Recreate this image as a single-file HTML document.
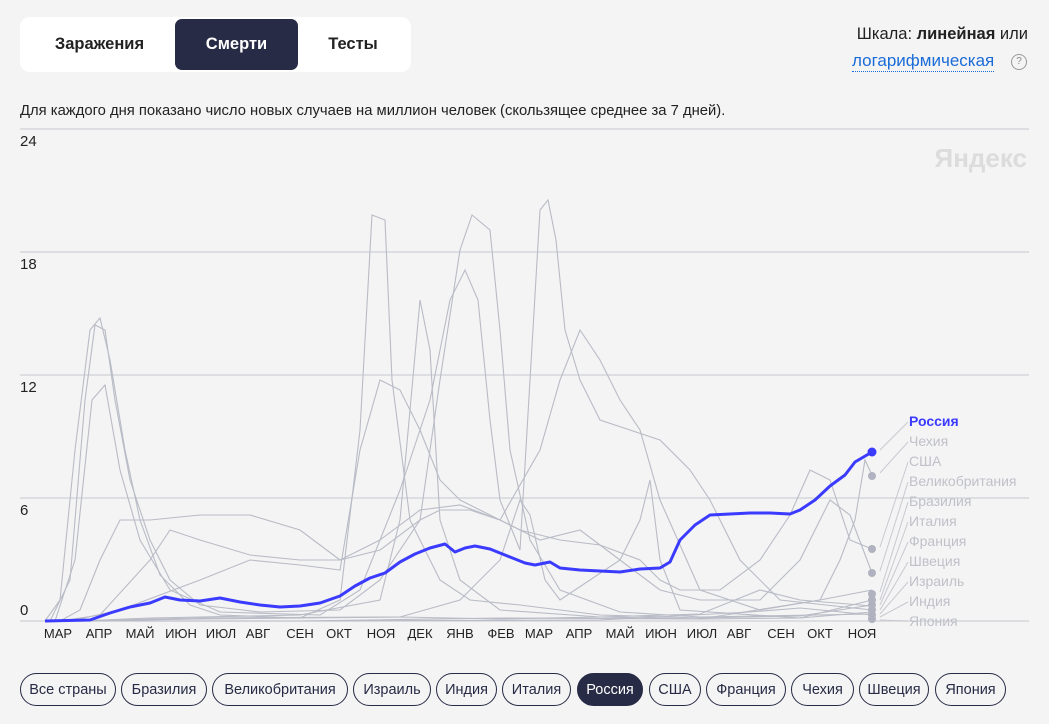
<!DOCTYPE html>
<html><head><meta charset="utf-8"><style>
body{margin:0;width:1049px;height:724px;background:#f4f4f4;font-family:"Liberation Sans","DejaVu Sans",sans-serif;position:relative;overflow:hidden;color:#222}
.tabs{position:absolute;left:20px;top:17px;width:391px;height:55px;background:#fff;border-radius:10px}
.tab{position:absolute;top:2px;height:51px;line-height:51px;font-size:16.5px;font-weight:bold;text-align:center;color:#222}
.tab.on{background:#272b45;color:#fff;border-radius:7px}
.btn{position:absolute;top:673px;height:33px;line-height:33px;border:1.3px solid #272b45;border-radius:17px;font-size:14.5px;text-align:center;color:#272b45;box-sizing:border-box}
.btn.on{background:#272b45;color:#fff}
</style></head><body>
<div class="tabs">
<div class="tab" style="left:12px;width:135px">Заражения</div>
<div class="tab on" style="left:155px;width:123px">Смерти</div>
<div class="tab" style="left:283px;width:100px">Тесты</div>
</div>
<div style="position:absolute;right:21px;top:25px;font-size:16.5px">Шкала: <b>линейная</b> или</div>
<div style="position:absolute;left:852px;top:51px;font-size:17px;color:#1a6bd8;border-bottom:1.5px dotted #1a6bd8;line-height:20px">логарифмическая</div>
<div style="position:absolute;left:1011px;top:54px;width:14px;height:14px;border:1px solid #999;border-radius:50%;font-size:10px;line-height:14px;text-align:center;color:#888">?</div>
<div style="position:absolute;left:20px;top:103px;font-size:14.8px">Для каждого дня показано число новых случаев на миллион человек (скользящее среднее за 7 дней).</div>
<svg width="1049" height="724" style="position:absolute;left:0;top:0" font-family="Liberation Sans, sans-serif">
<g stroke="#cfd1d8" stroke-width="1.3">
<line x1="20" y1="129" x2="1029" y2="129"/><line x1="20" y1="252" x2="1029" y2="252"/><line x1="20" y1="375" x2="1029" y2="375"/><line x1="20" y1="498" x2="1029" y2="498"/><line x1="20" y1="621" x2="1029" y2="621"/>
</g>
<g font-size="15" fill="#222"><text x="20" y="146">24</text><text x="20" y="269">18</text><text x="20" y="392">12</text><text x="20" y="515">6</text><text x="20" y="615">0</text></g>
<text x="1027" y="167" text-anchor="end" font-size="26" font-weight="bold" fill="#dcdcdc">Яндекс</text>
<g font-size="13" fill="#222" text-anchor="middle">
<text x="58" y="638">МАР</text><text x="99" y="638">АПР</text><text x="140" y="638">МАЙ</text><text x="181" y="638">ИЮН</text><text x="221" y="638">ИЮЛ</text><text x="258" y="638">АВГ</text><text x="300" y="638">СЕН</text><text x="339" y="638">ОКТ</text><text x="381" y="638">НОЯ</text><text x="420" y="638">ДЕК</text><text x="460" y="638">ЯНВ</text><text x="501" y="638">ФЕВ</text><text x="539" y="638">МАР</text><text x="579" y="638">АПР</text><text x="620" y="638">МАЙ</text><text x="661" y="638">ИЮН</text><text x="702" y="638">ИЮЛ</text><text x="739" y="638">АВГ</text><text x="781" y="638">СЕН</text><text x="820" y="638">ОКТ</text><text x="862" y="638">НОЯ</text>
</g>
<g fill="none" stroke="#b9bbc6" stroke-width="1.1">
<polyline points="45,621 60,600 75,450 90,330 100,318 110,360 125,450 140,520 160,575 190,605 220,615 300,618 340,600 360,430 372,215 385,220 392,380 410,520 440,580 470,600 520,605 600,615 700,618 800,616 872,605"/>
<polyline points="50,621 70,580 85,400 95,325 105,330 115,400 130,480 150,540 170,580 200,605 260,612 340,610 380,580 420,520 440,380 460,250 472,215 490,230 500,330 510,450 530,540 560,590 620,612 700,617 872,614"/>
<polyline points="55,621 75,560 92,400 105,385 120,470 140,540 170,590 220,612 320,615 360,590 400,490 430,400 450,300 465,270 478,300 490,420 500,500 520,550 540,210 548,200 556,240 565,330 580,380 600,420 630,430 660,440 690,470 710,500 740,560 780,600 872,610"/>
<polyline points="60,621 80,610 100,560 120,520 150,520 200,515 250,515 300,530 340,560 380,550 420,520 440,510 470,510 500,520 520,530 540,535 560,540 600,545 640,560 660,580 680,590 720,590 760,560 790,515 810,470 830,480 850,540 872,549"/>
<polyline points="60,621 100,615 150,560 170,530 200,540 250,555 300,560 340,560 380,540 420,510 460,505 500,520 540,540 580,530 620,560 660,590 700,600 760,600 800,560 830,500 850,515 872,573"/>
<polyline points="70,621 120,610 200,580 250,560 300,565 340,570 360,450 380,380 400,390 420,430 440,480 460,500 500,520 540,450 560,380 580,330 600,360 620,400 640,430 660,500 700,590 760,610 820,600 872,590"/>
<polyline points="80,621 150,618 300,615 380,600 400,520 420,300 430,350 440,520 460,580 500,610 600,617 700,619 800,618 872,600"/>
<polyline points="80,621 200,619 400,617 460,600 500,560 520,500 530,515 545,580 560,600 620,560 640,520 650,480 660,560 680,610 800,618 872,612"/>
<polyline points="60,621 300,621 500,618 700,619 820,600 840,560 855,520 865,460 872,475"/>
<polyline points="70,621 200,618 400,617 500,619 600,617 700,614 760,590 800,600 872,606"/>
<polyline points="70,621 300,621 600,620 750,612 800,608 872,615"/>
</g>
<polyline fill="none" stroke="#3b3bff" stroke-width="3" stroke-linejoin="round" points="45,621 90,620 110,613 130,607 150,603 165,597 180,600 200,601 220,598 240,602 260,605 280,607 300,606 320,603 340,596 355,586 370,578 385,573 400,562 415,554 430,548 445,544 455,552 465,548 475,546 490,549 510,557 525,563 535,565 550,562 560,568 580,570 600,571 620,572 640,569 660,568 670,562 680,540 695,525 710,515 730,514 750,513 770,513 790,514 800,510 815,500 830,486 845,475 855,462 872,452"/>
<g stroke="#c8c9d0" stroke-width="1"><line x1="880" y1="450" x2="908" y2="422"/><line x1="880" y1="473" x2="908" y2="442"/><line x1="880" y1="547" x2="908" y2="462"/><line x1="880" y1="571" x2="908" y2="482"/><line x1="880" y1="592" x2="908" y2="502"/><line x1="880" y1="600" x2="908" y2="522"/><line x1="880" y1="605" x2="908" y2="542"/><line x1="880" y1="610" x2="908" y2="562"/><line x1="880" y1="614" x2="908" y2="582"/><line x1="880" y1="617" x2="908" y2="602"/><line x1="880" y1="620" x2="908" y2="621"/></g>
<g fill="#b0b2bf"><circle cx="872" cy="476" r="4"/><circle cx="872" cy="549" r="4"/><circle cx="872" cy="573" r="4"/><circle cx="872" cy="594" r="4"/><circle cx="872" cy="600" r="4"/><circle cx="872" cy="605" r="4"/><circle cx="872" cy="610" r="4"/><circle cx="872" cy="615" r="4"/><circle cx="872" cy="619" r="4"/></g>
<circle cx="872" cy="452" r="4.5" fill="#3b3bff"/>
<text x="909" y="426" font-size="14" font-weight="bold" fill="#3b3bff">Россия</text>
<g font-size="14" fill="#c0c1c9"><text x="909" y="446">Чехия</text><text x="909" y="466">США</text><text x="909" y="486">Великобритания</text><text x="909" y="506">Бразилия</text><text x="909" y="526">Италия</text><text x="909" y="546">Франция</text><text x="909" y="566">Швеция</text><text x="909" y="586">Израиль</text><text x="909" y="606">Индия</text><text x="909" y="626">Япония</text></g>
</svg>
<div class="btn" style="left:20px;width:96px">Все страны</div>
<div class="btn" style="left:121px;width:86px">Бразилия</div>
<div class="btn" style="left:212px;width:136px">Великобритания</div>
<div class="btn" style="left:353px;width:78px">Израиль</div>
<div class="btn" style="left:436px;width:61px">Индия</div>
<div class="btn" style="left:502px;width:69px">Италия</div>
<div class="btn on" style="left:577px;width:66px">Россия</div>
<div class="btn" style="left:649px;width:52px">США</div>
<div class="btn" style="left:706px;width:80px">Франция</div>
<div class="btn" style="left:791px;width:63px">Чехия</div>
<div class="btn" style="left:859px;width:70px">Швеция</div>
<div class="btn" style="left:935px;width:71px">Япония</div>
</body></html>
